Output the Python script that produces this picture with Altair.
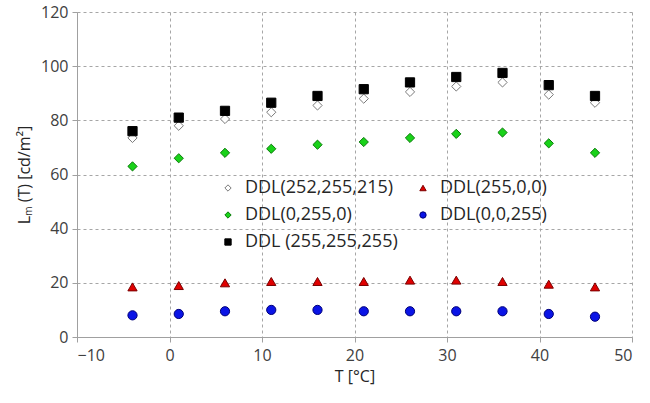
import altair as alt
import pandas as pd

temps = [-4, 1, 6, 11, 16, 21, 26, 31, 36, 41, 46]
s_252 = [73.5, 78, 80.5, 83, 85.5, 88, 90.5, 92.5, 94, 89.5, 86.5]
s_green = [63, 66, 68, 69.5, 71, 72, 73.5, 75, 75.5, 71.5, 68]
s_white = [76, 81, 83.5, 86.5, 89, 91.5, 94, 96, 97.5, 93, 89]
s_red = [18.5, 19, 20, 20.5, 20.5, 20.5, 21, 21, 20.5, 19.5, 18.5]
s_blue = [8, 8.5, 9.5, 10, 10, 9.5, 9.5, 9.5, 9.5, 8.5, 7.5]

# legend is laid out column by column: first column 3 entries, second column 2
names = ["DDL(252,255,215)", "DDL(0,255,0)", "DDL (255,255,255)", "DDL(255,0,0)", "DDL(0,0,255)"]
series = [s_252, s_green, s_white, s_red, s_blue]

rows = []
for n, vals in zip(names, series):
    for t, v in zip(temps, vals):
        rows.append({"T": t, "L": v, "series": n})
df = pd.DataFrame(rows)

fills = ["#ffffff", "#19d219", "#000000", "#e00000", "#0a14e6"]
strokes = ["#7a7a7a", "#0a7a0a", "#000000", "#7a0000", "#00007a"]
shapes = ["diamond", "diamond", "square", "triangle-up", "circle"]

font = "Open Sans"

legend = alt.Legend(
    orient="none", legendX=142, legendY=167, columns=2, title=None,
    labelFont=font, labelFontSize=18, labelColor="#262626",
    symbolSize=40, rowPadding=9, columnPadding=16, labelOffset=8,
    symbolStrokeWidth=1)

chart = alt.Chart(df).mark_point(filled=True, opacity=1, strokeWidth=1, size=85).encode(
    x=alt.X("T:Q", scale=alt.Scale(domain=[-10, 50], nice=False),
            axis=alt.Axis(values=[-10, 0, 10, 20, 30, 40, 50], title="T [°C]")),
    y=alt.Y("L:Q", scale=alt.Scale(domain=[0, 120], nice=False),
            axis=alt.Axis(values=[0, 20, 40, 60, 80, 100, 120], title="Lₘ (T) [cd/m²]")),
    fill=alt.Fill("series:N", scale=alt.Scale(domain=names, range=fills), legend=legend),
    stroke=alt.Stroke("series:N", scale=alt.Scale(domain=names, range=strokes), legend=legend),
    shape=alt.Shape("series:N", scale=alt.Scale(domain=names, range=shapes), legend=legend),
).properties(
    width=555, height=325,
    autosize=alt.AutoSizeParams(type="none"),
    padding={"left": 77, "top": 12, "right": 18, "bottom": 66},
).configure_view(stroke=None).configure_axis(
    grid=True, gridDash=[3, 3], gridColor="#a6a6a6", gridWidth=1,
    domainColor="#a0a0a0", tickColor="#a0a0a0", tickSize=5,
    labelFont=font, labelFontSize=16, labelColor="#404040",
    titleFont=font, titleFontSize=16, titleColor="#262626", titleFontWeight="normal",
).configure_axisX(labelPadding=5, titlePadding=5).configure_axisY(labelPadding=4, titlePadding=8)

chart.save("out.html", embed_options={"renderer": "svg", "actions": False})
